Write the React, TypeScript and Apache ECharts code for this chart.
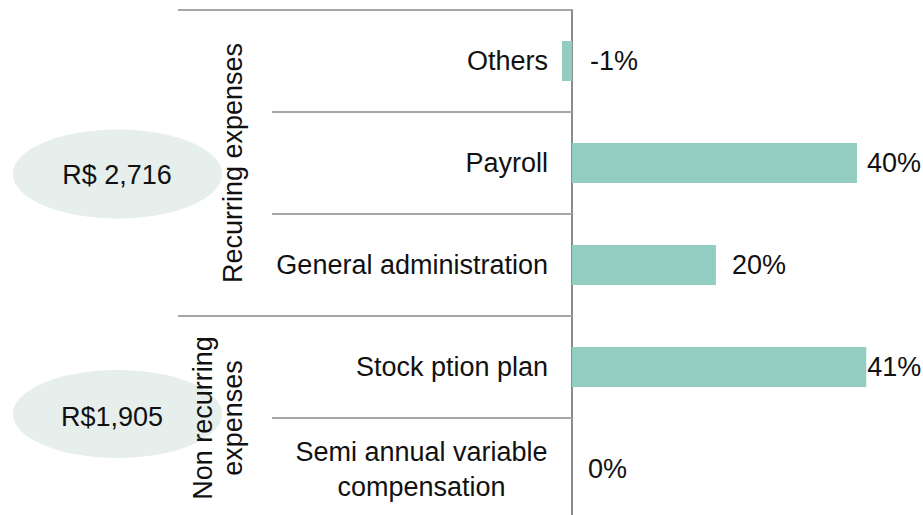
import React, { useEffect, useRef } from "react";
import * as echarts from "echarts";

// ---- data ----
const categories = [
  "Others",
  "Payroll",
  "General administration",
  "Stock ption plan",
  "Semi annual variable\ncompensation",
];
const shares = [-1.4, 40, 20.2, 41.3, 0];
const groupNames = ["Recurring expenses", "Non recurring\nexpenses"];
const groupSizes = [3, 2];
const groupTotals = ["R$ 2,716", "R$1,905"];

// ---- styles ----
const FONT = "'Liberation Sans', Arial, Helvetica, sans-serif";
const TEXT = "#111111";
const BAR = "#93cdc1";
const AXIS = "#8c8c8c";
const SEP = "#a6a6a6";
const OVAL = "#e6efec";
const FS = 27;
const labelDistance: Record<string, number> = { Others: 18, Payroll: 10, "Stock ption plan": 1 };
const ovals = [
  { cx: 117.5, cy: 174, rx: 104.5, ry: 44.5, tx: 117, ty: 175 },
  { cx: 117.5, cy: 414, rx: 104.5, ry: 44, tx: 112, ty: 417 },
];

function textWidth(s: string): number {
  const c = document.createElement("canvas").getContext("2d");
  if (!c) return s.length * FS * 0.5;
  c.font = `${FS}px ${FONT}`;
  return c.measureText(s).width;
}

export default function App() {
  const ref = useRef<HTMLDivElement>(null);
  useEffect(() => {
    if (!ref.current) return;
    const chart = echarts.init(ref.current, undefined, { renderer: "svg" });
    const multiWidth = Math.ceil(
      Math.max(
        0,
        ...categories
          .filter((c) => c.includes("\n"))
          .flatMap((c) => c.split("\n"))
          .map(textWidth)
      )
    );
    chart.setOption({
      animation: false,
      grid: { left: 572, width: 320.625, top: 10, height: 510 },
      xAxis: { type: "value", min: 0, max: 45, show: false },
      yAxis: {
        type: "category",
        data: categories,
        inverse: true,
        axisLine: { show: true, onZero: false, lineStyle: { color: AXIS, width: 2 } },
        axisTick: { show: true, interval: 0, length: 300, lineStyle: { color: SEP, width: 2 } },
        splitLine: { show: false },
        axisLabel: {
          margin: 24,
          fontSize: FS,
          fontFamily: FONT,
          color: TEXT,
          align: "right",
          lineHeight: 35,
          interval: 0,
          formatter: (v: string) =>
            v.includes("\n") ? v.split("\n").map((l) => `{c|${l}}`).join("\n") : v,
          rich: {
            c: {
              width: multiWidth,
              align: "center",
              fontSize: FS,
              fontFamily: FONT,
              color: TEXT,
              lineHeight: 35,
            },
          },
        },
      },
      series: [
        {
          type: "bar",
          barWidth: 40,
          clip: false,
          itemStyle: { color: BAR },
          label: {
            show: true,
            position: "right",
            distance: 16,
            fontSize: FS,
            fontFamily: FONT,
            color: TEXT,
            formatter: (p: any) => `${Math.round(p.value)}%`,
          },
          data: shares.map((v, i) => {
            const d = labelDistance[categories[i]];
            return d !== undefined ? { value: v, label: { distance: d } } : { value: v };
          }),
        },
      ],
    });

    // decorations tied to the axes
    const centers = categories.map((_, i) => chart.convertToPixel({ yAxisIndex: 0 }, i) as number);
    const band = centers[1] - centers[0];
    const zeroX = chart.convertToPixel({ xAxisIndex: 0 }, 0) as number;
    const graphics: any[] = [];
    ovals.forEach((o, gi) => {
      graphics.push({
        type: "ellipse",
        shape: { cx: o.cx, cy: o.cy, rx: o.rx, ry: o.ry },
        style: { fill: OVAL },
        z: 1,
      });
      graphics.push({
        type: "text",
        x: o.tx,
        y: o.ty,
        style: {
          text: groupTotals[gi],
          fontSize: FS,
          fontFamily: FONT,
          fill: TEXT,
          align: "center",
          verticalAlign: "middle",
        },
        z: 2,
      });
    });
    let start = 0;
    groupSizes.forEach((n, gi) => {
      const yTop = centers[start] - band / 2;
      const yMid = (centers[start] + centers[start + n - 1]) / 2;
      graphics.push({
        type: "line",
        shape: { x1: 178, y1: yTop, x2: zeroX, y2: yTop },
        style: { stroke: SEP, lineWidth: 2 },
        z: 3,
      });
      graphics.push({
        type: "text",
        x: 248,
        y: yMid,
        rotation: Math.PI / 2,
        style: {
          text: groupNames[gi],
          fontSize: FS,
          fontFamily: FONT,
          fill: TEXT,
          align: "center",
          verticalAlign: "bottom",
          lineHeight: 30,
        },
        z: 4,
      });
      start += n;
    });
    chart.setOption({ graphic: graphics });
    return () => chart.dispose();
  }, []);
  return (
    <div
      ref={ref}
      style={{ position: "fixed", left: 0, top: 0, width: 923, height: 530, background: "#fff" }}
    />
  );
}
